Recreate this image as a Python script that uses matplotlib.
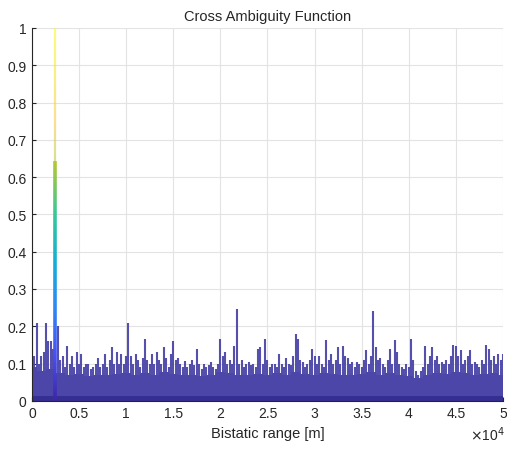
import numpy as np
import matplotlib
matplotlib.use("Agg")
import matplotlib.pyplot as plt
from matplotlib.colors import LinearSegmentedColormap
from matplotlib.collections import LineCollection

# ---- data ----
range_step = 250  # m
spike_heights = [
    0.247, 0.12, 0.21, 0.10, 0.12, 0.13, 0.21, 0.16, 0.16, 0.14,
    0.15, 0.20, 0.11, 0.12, 0.09, 0.147, 0.10, 0.12, 0.09, 0.13,
    0.10, 0.125, 0.09, 0.10, 0.10, 0.085, 0.09, 0.10, 0.115, 0.09,
    0.10, 0.125, 0.09, 0.11, 0.145, 0.10, 0.13, 0.10, 0.125, 0.10,
    0.12, 0.21, 0.12, 0.10, 0.125, 0.11, 0.09, 0.115, 0.166, 0.11,
    0.10, 0.125, 0.10, 0.13, 0.11, 0.10, 0.145, 0.115, 0.09, 0.125,
    0.16, 0.11, 0.115, 0.10, 0.09, 0.107, 0.09, 0.10, 0.11, 0.095,
    0.14, 0.10, 0.085, 0.10, 0.09, 0.095, 0.105, 0.09, 0.085, 0.10,
    0.166, 0.12, 0.13, 0.10, 0.11, 0.10, 0.147, 0.247, 0.10, 0.11,
    0.09, 0.10, 0.105, 0.095, 0.098, 0.09, 0.14, 0.145, 0.10, 0.166,
    0.11, 0.09, 0.10, 0.10, 0.09, 0.125, 0.10, 0.09, 0.115, 0.10,
    0.095, 0.12, 0.18, 0.166, 0.11, 0.105, 0.09, 0.10, 0.11, 0.14,
    0.12, 0.10, 0.12, 0.10, 0.09, 0.163, 0.11, 0.125, 0.10, 0.11,
    0.145, 0.10, 0.147, 0.12, 0.115, 0.10, 0.105, 0.09, 0.105, 0.10,
    0.09, 0.11, 0.135, 0.10, 0.12, 0.242, 0.145, 0.11, 0.115, 0.10,
    0.09, 0.11, 0.14, 0.10, 0.163, 0.13, 0.10, 0.09, 0.085, 0.10,
    0.09, 0.166, 0.11, 0.08, 0.07, 0.08, 0.09, 0.147, 0.10, 0.12,
    0.145, 0.11, 0.12, 0.10, 0.105, 0.10, 0.11, 0.10, 0.12, 0.15,
    0.147, 0.12, 0.135, 0.10, 0.11, 0.12, 0.135, 0.10, 0.105, 0.10,
    0.09, 0.11, 0.10, 0.15, 0.14, 0.11, 0.12, 0.10, 0.125, 0.11,
    0.125,
]
floor_step = 1000  # m
floor_levels = [
    0.09, 0.08, 0.085, 0.075, 0.07, 0.072, 0.066, 0.07, 0.068, 0.072,
    0.075, 0.07, 0.074, 0.07, 0.078, 0.072, 0.068, 0.07, 0.066, 0.07,
    0.076, 0.074, 0.07, 0.068, 0.072, 0.07, 0.074, 0.07, 0.078, 0.072,
    0.07, 0.074, 0.072, 0.068, 0.07, 0.072, 0.078, 0.07, 0.074, 0.068,
    0.066, 0.062, 0.07, 0.074, 0.072, 0.076, 0.074, 0.07, 0.072, 0.074,
    0.07,
]
main_peak_range = 2430
main_peak_value = 1.0

xticks = [0, 0.5e4, 1e4, 1.5e4, 2e4, 2.5e4, 3e4, 3.5e4, 4e4, 4.5e4, 5e4]
xticklabels = ["0", "0.5", "1", "1.5", "2", "2.5", "3", "3.5", "4", "4.5", "5"]
yticks = [0, 0.1, 0.2, 0.3, 0.4, 0.5, 0.6, 0.7, 0.8, 0.9, 1]
yticklabels = ["0", "0.1", "0.2", "0.3", "0.4", "0.5", "0.6", "0.7", "0.8", "0.9", "1"]

# ---- style ----
plt.rcParams['font.family'] = ['Liberation Sans', 'DejaVu Sans']
txt = '#262626'
parula = LinearSegmentedColormap.from_list('parula', [
    (0.2422, 0.1504, 0.6603), (0.2810, 0.3228, 0.9579), (0.1786, 0.5289, 0.9682),
    (0.0689, 0.6948, 0.8394), (0.2161, 0.7843, 0.5923), (0.6720, 0.7793, 0.2227),
    (0.9970, 0.7659, 0.2199), (0.9598, 0.8870, 0.1297), (0.9769, 0.9839, 0.0805)])

fig = plt.figure(figsize=(5.07, 4.52), dpi=100)
ax = fig.add_axes([0.063, 0.111, 0.929, 0.825])

spike_x = np.arange(len(spike_heights)) * range_step
floor_x = np.arange(len(floor_levels)) * floor_step
blue = '#4b46a8'

ax.fill_between(floor_x, 0, floor_levels, step='mid', color=blue, lw=0, zorder=2)
ax.vlines(spike_x, 0, spike_heights, color=blue, lw=1.5, alpha=0.95, zorder=3)
ax.fill_between([0, 5e4], 0, 0.012, color='#352e93', lw=0, zorder=4)

# main peak coloured by height
zs = np.linspace(0, main_peak_value, 200)
segs = [[(main_peak_range, zs[i]), (main_peak_range, zs[i + 1])] for i in range(len(zs) - 1)]
cols = parula(zs[:-1] / main_peak_value)
lws = np.where(zs[:-1] < 0.64, 2.6, 1.6)
alphas = np.where(zs[:-1] < 0.64, 1.0, 0.55)
cols[:, 3] = alphas
ax.add_collection(LineCollection(segs, colors=cols, linewidths=lws, zorder=5))

ax.set_xlim(0, 5e4)
ax.set_ylim(0, 1)
ax.set_xticks(xticks)
ax.set_xticklabels(xticklabels)
ax.set_yticks(yticks)
ax.set_yticklabels(yticklabels)
ax.grid(True, color='#e3e3e3', lw=0.8, zorder=0)
ax.set_axisbelow(True)
for s in ['top', 'right']:
    ax.spines[s].set_visible(False)
for s in ['left', 'bottom']:
    ax.spines[s].set_color(txt)
    ax.spines[s].set_linewidth(0.8)
    ax.spines[s].set_zorder(6)
ax.tick_params(direction='in', length=3, width=0.8, colors=txt, labelsize=10, pad=4)

ax.set_title('Cross Ambiguity Function', fontsize=10.5, color=txt, pad=6)
ax.set_xlabel('Bistatic range [m]', fontsize=10.5, color=txt, labelpad=4)
fig.text(0.995, 0.018, r'$\times$10$^4$', ha='right', va='bottom', fontsize=10, color=txt)

fig.savefig('out.png', dpi=100, facecolor='white')
